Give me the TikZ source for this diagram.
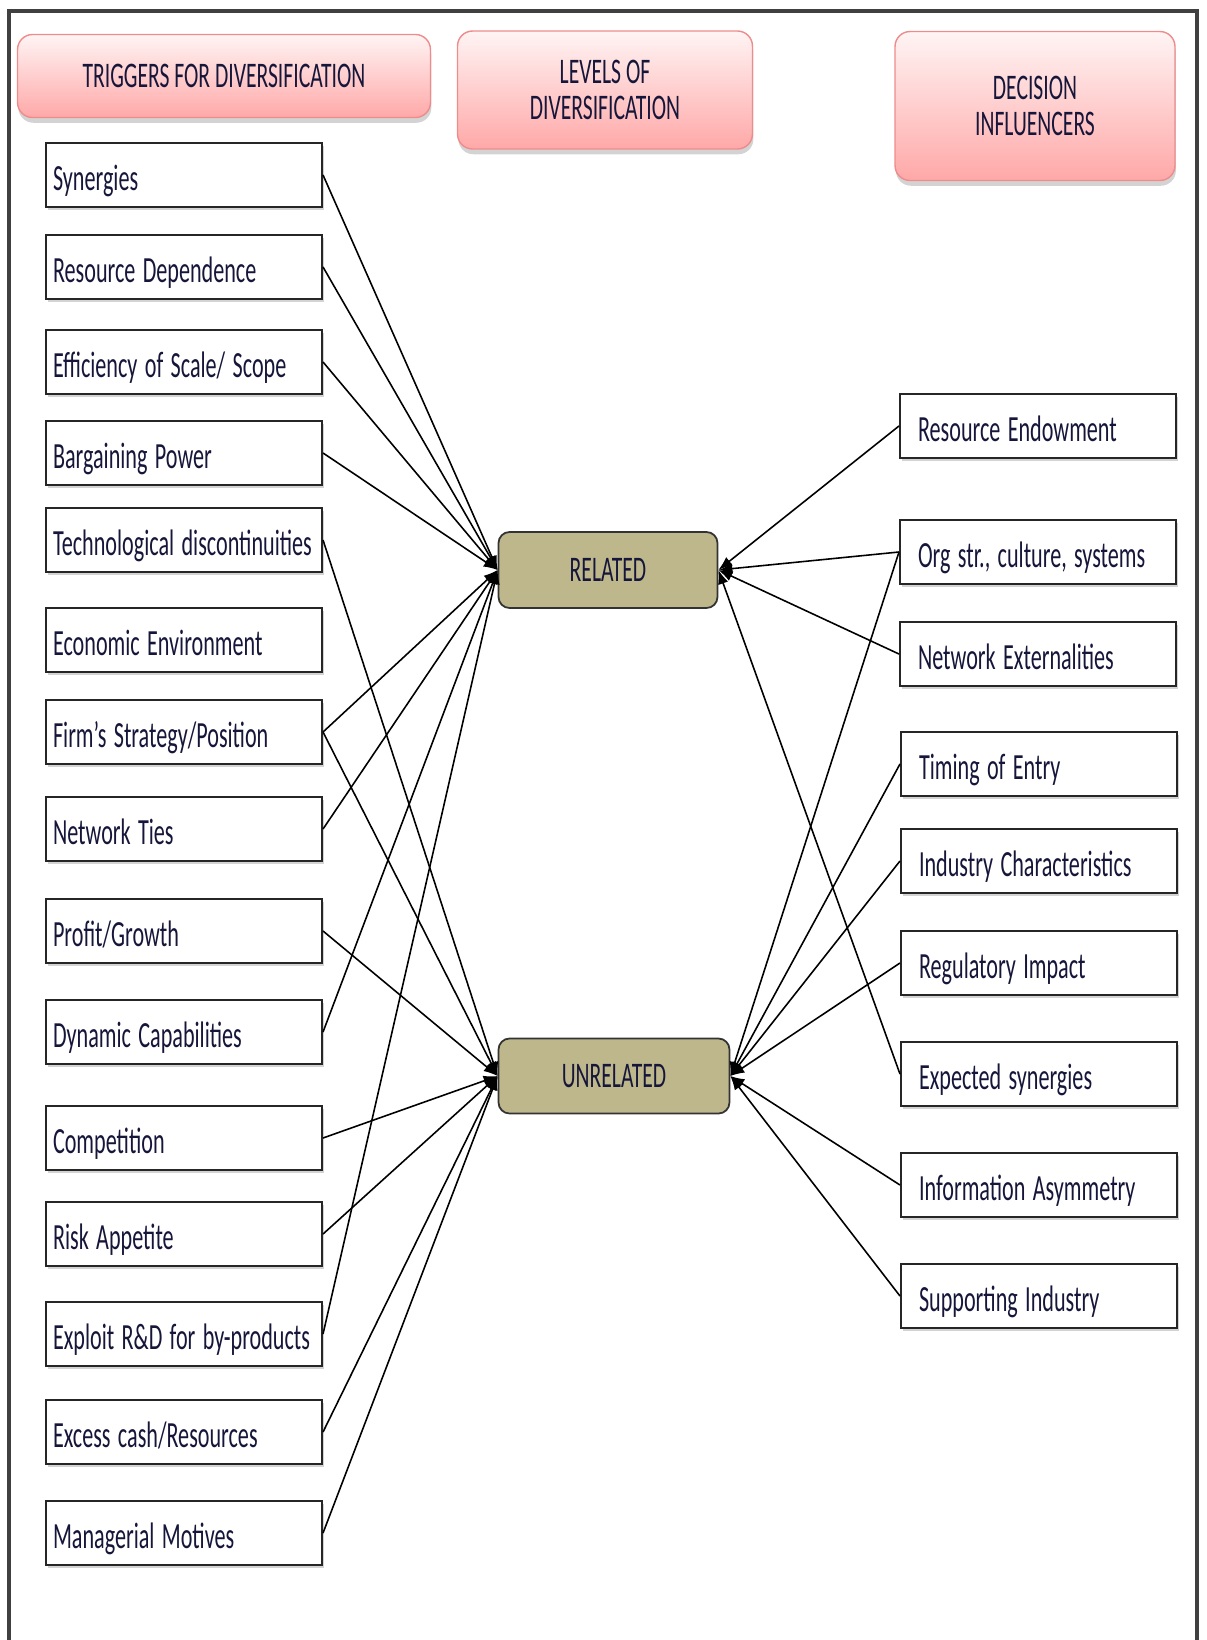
\documentclass[tikz,border=0pt]{standalone}
\usepackage{fontspec}
\setmainfont[FakeStretch=0.6]{Carlito}
\usetikzlibrary{arrows.meta,shadows}
\definecolor{ink}{RGB}{22,22,58}
\definecolor{pinktop}{RGB}{255,244,244}
\definecolor{pinkbot}{RGB}{255,168,168}
\definecolor{pinkline}{RGB}{238,140,140}
\definecolor{khaki}{RGB}{190,183,140}
\protected\def\boxfont{\fontsize{21}{21}\selectfont\spaceskip=0.2em\relax\hyphenpenalty=10000\relax}
\begin{document}
\begin{tikzpicture}[x=0.02cm,y=-0.02cm,
	head/.style={draw=pinkline,line width=0.8pt,rounded corners=0.3cm,top color=pinktop,bottom color=pinkbot,drop shadow={shadow xshift=0.5pt,shadow yshift=-3pt,opacity=0.35},align=center,text=ink,font=\fontsize{20.5}{20.5}\selectfont},
	trig/.style={draw=black!85,line width=1.2pt,fill=white,minimum height=1.28cm,text width=5.24cm,inner xsep=0.14cm,align=flush left,text height=0.62cm,text depth=0pt,text=ink,font=\boxfont,drop shadow={shadow xshift=1pt,shadow yshift=-1.5pt,opacity=0.35}},
	infl/.style={trig,text width=4.8cm,inner xsep=0.36cm},
	level/.style={draw=black!80,line width=1pt,fill=khaki,rounded corners=0.22cm,text=ink,font=\fontsize{20.5}{20.5}\selectfont},
	link/.style={line width=0.9pt,-{Latex[length=8pt,width=6pt]}}]
		\useasboundingbox (0,0) rectangle (1207,1640);
		\draw[line width=0.07cm,black!75] (9,1640) -- (9,11) -- (1197,11) -- (1197,1640);
	
		\node[head,minimum width=8.26cm,minimum height=1.66cm] (H1) at (224,76) {TRIGGERS FOR DIVERSIFICATION};
		\node[head,minimum width=5.9cm,minimum height=2.36cm] (H2) at (605,90) {LEVELS OF\\DIVERSIFICATION};
		\node[head,minimum width=5.6cm,minimum height=2.98cm] (H3) at (1035,106) {DECISION\\INFLUENCERS};
	
		\node[trig] (T1) at (184,175) {Synergies};
		\node[trig] (T2) at (184,267) {Resource Dependence};
		\node[trig] (T3) at (184,362) {Efficiency of Scale/ Scope};
		\node[trig] (T4) at (184,453) {Bargaining Power};
		\node[trig] (T5) at (184,540) {Technological discontinuities};
		\node[trig] (T6) at (184,640) {Economic Environment};
		\node[trig] (T7) at (184,732) {Firm's Strategy/Position};
		\node[trig] (T8) at (184,829) {Network Ties};
		\node[trig] (T9) at (184,931) {Profit/Growth};
		\node[trig] (T10) at (184,1032) {Dynamic Capabilities};
		\node[trig] (T11) at (184,1138) {Competition};
		\node[trig] (T12) at (184,1234) {Risk Appetite};
		\node[trig] (T13) at (184,1334) {Exploit R\&D for by-products};
		\node[trig] (T14) at (184,1432) {Excess cash/Resources};
		\node[trig] (T15) at (184,1533) {Managerial Motives};
	
		\node[level,minimum width=4.38cm,minimum height=1.52cm] (R) at (608,570) {RELATED};
		\node[level,minimum width=4.62cm,minimum height=1.5cm] (U) at (614,1076) {UNRELATED};
	
		\node[infl] (D1) at (1038,426) {Resource Endowment};
		\node[infl] (D2) at (1038,552) {Org str., culture, systems};
		\node[infl] (D3) at (1038,654) {Network Externalities};
		\node[infl] (D4) at (1039,764) {Timing of Entry};
		\node[infl] (D5) at (1039,861) {Industry Characteristics};
		\node[infl] (D6) at (1039,963) {Regulatory Impact};
		\node[infl] (D7) at (1039,1074) {Expected synergies};
		\node[infl] (D8) at (1039,1185) {Information Asymmetry};
		\node[infl] (D9) at (1039,1296) {Supporting Industry};
	
		\draw[link] (T1.east) -- (R.west);
		\draw[link] (T2.east) -- (R.west);
		\draw[link] (T3.east) -- (R.west);
		\draw[link] (T4.east) -- (R.west);
		\draw[link] (T7.east) -- (R.west);
		\draw[link] (T8.east) -- (R.west);
		\draw[link] (T10.east) -- (R.west);
		\draw[link] (T13.east) -- (R.west);
		\draw[link] (T5.east) -- (U.west);
		\draw[link] (T7.east) -- (U.west);
		\draw[link] (T9.east) -- (U.west);
		\draw[link] (T11.east) -- (U.west);
		\draw[link] (T12.east) -- (U.west);
		\draw[link] (T14.east) -- (U.west);
		\draw[link] (T15.east) -- (U.west);
		\draw[link] (D1.west) -- (R.east);
		\draw[link] (D2.west) -- (R.east);
		\draw[link] (D3.west) -- (R.east);
		\draw[link] (D7.west) -- (R.east);
		\draw[link] (D2.west) -- (U.east);
		\draw[link] (D4.west) -- (U.east);
		\draw[link] (D5.west) -- (U.east);
		\draw[link] (D6.west) -- (U.east);
		\draw[link] (D8.west) -- (U.east);
		\draw[link] (D9.west) -- (U.east);
		\end{tikzpicture}
\end{document}
